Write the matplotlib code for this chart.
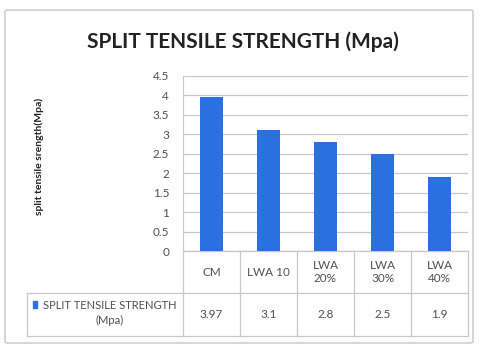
import numpy as np
import matplotlib.pyplot as plt
from matplotlib.patches import FancyBboxPatch, Rectangle

# data
categories = ['CM', 'LWA 10', 'LWA\n20%', 'LWA\n30%', 'LWA\n40%']
values = [3.97, 3.1, 2.8, 2.5, 1.9]
value_labels = ['3.97', '3.1', '2.8', '2.5', '1.9']
series_name = 'SPLIT TENSILE STRENGTH\n(Mpa)'

bar_color = '#2a70e0'
line_color = '#c8c8c8'
text_color = '#505050'
plt.rcParams['font.family'] = ['Lato', 'DejaVu Sans']

fig = plt.figure(figsize=(4.83, 3.48), dpi=100)

# outer chart border
fig.patches.append(FancyBboxPatch((5 / 483, 1 - 343 / 348), 468 / 483, 333 / 348,
                                  boxstyle='round,pad=0,rounding_size=0.005',
                                  transform=fig.transFigure, fill=False,
                                  edgecolor='#cfcfcf', linewidth=1.2))

ax = fig.add_axes([183 / 483, 1 - 251 / 348, 285 / 483, 175 / 348])
x = np.arange(len(categories))
ax.bar(x, values, width=0.39, color=bar_color, zorder=3)
ax.set_xlim(-0.5, len(categories) - 0.5)
ax.set_ylim(0, 4.5)
ax.set_yticks(np.arange(0, 4.51, 0.5))
ax.set_yticklabels(['0', '0.5', '1', '1.5', '2', '2.5', '3', '3.5', '4', '4.5'])
ax.tick_params(axis='y', length=0, labelsize=8.5, labelcolor=text_color, pad=10)
ax.set_xticks([])
ax.grid(axis='y', color=line_color, linewidth=0.9, zorder=0)
for s in ['top', 'right', 'bottom']:
    ax.spines[s].set_visible(False)
ax.spines['left'].set_color(line_color)

fig.text(243 / 483, 1 - 42 / 348, 'SPLIT TENSILE STRENGTH (Mpa)', ha='center', va='center',
         fontsize=15, fontweight='bold', color='#222222')
fig.text(39 / 483, 1 - 156 / 348, 'split tensile srength(Mpa)', ha='center', va='center',
         rotation=90, fontsize=7.5, fontweight='bold', color='#222222')

# data table below the axes
tr = ax.get_xaxis_transform()
row1 = -(293 - 251) / 175
row2 = -(336 - 251) / 175
left_ax = (27 - 183) / 285 * len(categories) - 0.5
kw = dict(transform=tr, color=line_color, linewidth=0.9, clip_on=False)
ax.plot([-0.5, len(categories) - 0.5], [0, 0], **kw)
ax.plot([left_ax, len(categories) - 0.5], [row1, row1], **kw)
ax.plot([left_ax, len(categories) - 0.5], [row2, row2], **kw)
ax.plot([left_ax, left_ax], [row1, row2], **kw)
for b in np.arange(len(categories) + 1) - 0.5:
    ax.plot([b, b], [0, row2], **kw)
for i, (c, v) in enumerate(zip(categories, value_labels)):
    ax.text(i, row1 / 2, c, transform=tr, ha='center', va='center', fontsize=8.5,
            color=text_color, linespacing=1.25)
    ax.text(i, (row1 + row2) / 2, v, transform=tr, ha='center', va='center', fontsize=8.5,
            color=text_color)

fig.patches.append(Rectangle((33 / 483, 1 - 308 / 348), 4 / 483, 7 / 348,
                             transform=fig.transFigure, color=bar_color))
fig.text(110 / 483, 1 - 313 / 348, series_name, ha='center', va='center', fontsize=8,
         color=text_color, linespacing=1.45)

fig.savefig('out.png', dpi=100)
